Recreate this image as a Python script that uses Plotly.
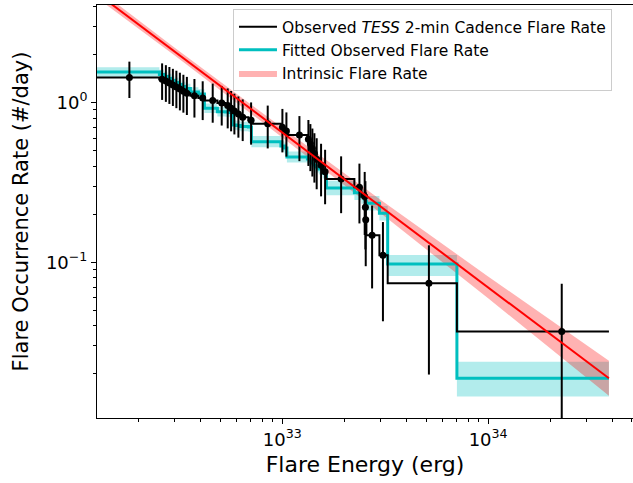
import plotly.graph_objects as go

# ---------------- data ----------------
# observed flares (energy in erg, cumulative occurrence rate in #/day)
flare_energy = [1.807e32, 2.606e32, 2.718e32, 2.827e32, 2.940e32, 3.057e32, 3.179e32, 3.306e32,
                3.438e32, 3.741e32, 4.104e32, 4.590e32, 5.077e32, 5.429e32, 5.639e32, 5.850e32,
                6.118e32, 6.420e32, 7.053e32, 8.494e32, 1.001e33, 1.047e33, 1.211e33, 1.339e33,
                1.369e33, 1.400e33, 1.432e33, 1.469e33, 1.543e33, 1.614e33, 1.931e33, 2.370e33,
                2.514e33, 2.534e33, 2.543e33, 2.731e33, 3.083e33, 5.156e33, 2.279e34]
obs_rate = [1.439, 1.402, 1.365, 1.328, 1.292, 1.255, 1.218, 1.181, 1.144, 1.107, 1.070, 1.033,
            0.9963, 0.9594, 0.9225, 0.8856, 0.8487, 0.8118, 0.7749, 0.7380, 0.7011, 0.6642,
            0.6273, 0.5904, 0.5535, 0.5166, 0.4797, 0.4428, 0.4059, 0.3690, 0.3321, 0.2952,
            0.2583, 0.2214, 0.1845, 0.1476, 0.1107, 0.0738, 0.0369]
obs_err = [0.369, 0.361, 0.353, 0.346, 0.338, 0.331, 0.323, 0.315, 0.307, 0.300, 0.292, 0.284,
           0.277, 0.269, 0.261, 0.253, 0.245, 0.237, 0.229, 0.221, 0.213, 0.205, 0.197, 0.189,
           0.181, 0.172, 0.164, 0.156, 0.147, 0.138, 0.129, 0.120, 0.110, 0.101, 0.090, 0.079,
           0.068, 0.054, 0.0366]

# step bin edges (erg) shared by observed and fitted step curves
bin_edges = [1.0e32, 2.528e32, 2.658e32, 2.765e32, 2.891e32, 2.990e32, 3.126e32, 3.233e32,
             3.382e32, 3.577e32, 3.911e32, 4.183e32, 4.838e32, 5.291e32, 5.534e32, 5.754e32,
             5.984e32, 6.257e32, 6.844e32, 7.078e32, 9.845e32, 1.024e33, 1.053e33, 1.324e33,
             1.354e33, 1.385e33, 1.416e33, 1.448e33, 1.506e33, 1.575e33, 1.638e33, 2.240e33,
             2.423e33, 2.520e33, 2.540e33, 2.562e33, 2.964e33, 3.251e33, 7.053e33, 3.864e34]

fit_rate = [1.557, 1.502, 1.459, 1.418, 1.377, 1.339, 1.300, 1.263, 1.227, 1.167, 1.134, 0.9224,
            0.8784, 0.8745, 0.8682, 0.7248, 0.7196, 0.7092, 0.7040, 0.5696, 0.5355, 0.5202,
            0.4568, 0.4438, 0.4311, 0.4189, 0.4070, 0.3955, 0.3842, 0.3626, 0.2920, 0.2729,
            0.2584, 0.2474, 0.2404, 0.2342, 0.2028, 0.0976, 0.01876]
fit_hi = [1.668, 1.609, 1.563, 1.519, 1.475, 1.435, 1.393, 1.353, 1.315, 1.250, 1.215, 0.9884,
          0.9412, 0.9370, 0.9303, 0.7766, 0.7711, 0.7599, 0.7543, 0.6174, 0.5804, 0.5638,
          0.4951, 0.4810, 0.4673, 0.4540, 0.4411, 0.4287, 0.4164, 0.3930, 0.3239, 0.3027,
          0.2866, 0.2744, 0.2667, 0.2598, 0.2249, 0.1110, 0.02384]
fit_lo = [1.453, 1.402, 1.362, 1.323, 1.285, 1.250, 1.213, 1.179, 1.145, 1.089, 1.058, 0.8609,
          0.8198, 0.8162, 0.8103, 0.6765, 0.6716, 0.6619, 0.6571, 0.5255, 0.4940, 0.4799,
          0.4214, 0.4094, 0.3977, 0.3865, 0.3755, 0.3649, 0.3545, 0.3345, 0.2633, 0.2460,
          0.2330, 0.2231, 0.2167, 0.2112, 0.1828, 0.0821, 0.01440]

# intrinsic power-law flare rate and its uncertainty band
intr_energy = [1.0e32, 3.0e32, 1.0e33, 3.0e33, 1.0e34, 3.864e34]
intr_rate = [6.06, 2.089, 0.6496, 0.2239, 0.0696, 0.01876]
intr_lo = [5.655, 1.972, 0.6063, 0.2033, 0.0595, 0.01458]
intr_hi = [6.493, 2.213, 0.6960, 0.2466, 0.0815, 0.02415]

x_tick_vals = [1e33, 1e34]
x_tick_text = ["10<sup>33</sup>", "10<sup>34</sup>"]
y_tick_vals = [0.1, 1]
y_tick_text = ["10<sup>\u22121</sup>", "10<sup>0</sup>"]
x_minor = [2e32, 3e32, 4e32, 5e32, 6e32, 7e32, 8e32, 9e32,
           2e33, 3e33, 4e33, 5e33, 6e33, 7e33, 8e33, 9e33, 2e34, 3e34, 4e34, 5e34]
y_minor = [0.02, 0.03, 0.04, 0.05, 0.06, 0.07, 0.08, 0.09,
           0.2, 0.3, 0.4, 0.5, 0.6, 0.7, 0.8, 0.9, 2, 3, 4]

# ---------------- figure ----------------
BLACK = "#000000"
CYAN = "#00bfbf"
RED = "#ff0000"
FONT = "DejaVu Sans"

fig = go.Figure()

def ext(v):
    return list(v) + [v[-1]]

# fitted band (cyan)
fig.add_trace(go.Scatter(x=bin_edges, y=ext(fit_hi), mode="lines", line=dict(width=0, shape="hv"),
                         hoverinfo="skip", showlegend=False))
fig.add_trace(go.Scatter(x=bin_edges, y=ext(fit_lo), mode="lines", line=dict(width=0, shape="hv"),
                         fill="tonexty", fillcolor="rgba(0,191,191,0.3)", hoverinfo="skip",
                         showlegend=False))
# intrinsic band (red)
fig.add_trace(go.Scatter(x=intr_energy, y=intr_hi, mode="lines", line=dict(width=0),
                         hoverinfo="skip", showlegend=False))
fig.add_trace(go.Scatter(x=intr_energy, y=intr_lo, mode="lines", line=dict(width=0),
                         fill="tonexty", fillcolor="rgba(255,0,0,0.3)", hoverinfo="skip",
                         showlegend=False))
# fitted step line
fig.add_trace(go.Scatter(x=bin_edges, y=ext(fit_rate), mode="lines",
                         line=dict(color=CYAN, width=3, shape="hv"),
                         name="Fitted Observed Flare Rate", legendrank=2, legendgroup="b"))
# observed step line
fig.add_trace(go.Scatter(x=bin_edges, y=ext(obs_rate), mode="lines",
                         line=dict(color=BLACK, width=2, shape="hv"),
                         name="Observed <i>TESS</i> 2-min Cadence Flare Rate",
                         legendrank=1, legendgroup="a"))
# observed points with error bars
fig.add_trace(go.Scatter(x=flare_energy, y=obs_rate, mode="markers",
                         marker=dict(color=BLACK, size=7),
                         error_y=dict(type="data", array=obs_err, arrayminus=obs_err,
                                      color=BLACK, thickness=2, width=0),
                         showlegend=False))
# intrinsic line
fig.add_trace(go.Scatter(x=intr_energy, y=intr_rate, mode="lines",
                         line=dict(color=RED, width=2), showlegend=False))
# legend patch for intrinsic band
fig.add_trace(go.Scatter(x=[None], y=[None], mode="lines", fill="toself",
                         fillcolor="rgba(255,0,0,0.3)", line=dict(width=0, color="rgba(255,0,0,0.3)"),
                         name="Intrinsic Flare Rate", legendrank=3, legendgroup="c"))

axis_common = dict(type="log", showline=True, linecolor=BLACK, linewidth=1,
                   ticks="outside", ticklen=5, tickwidth=1, tickcolor=BLACK,
                   showgrid=False, zeroline=False,
                   tickfont=dict(family=FONT, size=18, color=BLACK))

fig.update_xaxes(**axis_common, range=[32.0996, 34.704], mirror=True,
                 tickmode="array", tickvals=x_tick_vals, ticktext=x_tick_text,
                 minor=dict(tickmode="array", tickvals=x_minor, ticks="outside", ticklen=3,
                            tickwidth=1, tickcolor=BLACK, showgrid=False),
                 title=dict(text="Flare Energy (erg)", font=dict(family=FONT, size=22, color=BLACK),
                            standoff=8))
fig.update_yaxes(**axis_common, range=[-1.9756, 0.6121], mirror=False,
                 tickmode="array", tickvals=y_tick_vals, ticktext=y_tick_text,
                 minor=dict(tickmode="array", tickvals=y_minor, ticks="outside", ticklen=3,
                            tickwidth=1, tickcolor=BLACK, showgrid=False),
                 title=dict(text="Flare Occurrence Rate (#/day)",
                            font=dict(family=FONT, size=21, color=BLACK), standoff=11))

fig.update_layout(
    width=633, height=483,
    margin=dict(l=97, r=0, t=5, b=65),
    plot_bgcolor="white", paper_bgcolor="white",
    font=dict(family=FONT, color=BLACK),
    legend=dict(x=0.2537, y=0.99, xanchor="left", yanchor="top",
                bgcolor="rgba(255,255,255,0.8)", bordercolor="#cccccc", borderwidth=1,
                font=dict(family=FONT, size=15.5, color=BLACK),
                itemwidth=38,
                traceorder="grouped", tracegroupgap=0),
)

fig.write_html("out.html")
